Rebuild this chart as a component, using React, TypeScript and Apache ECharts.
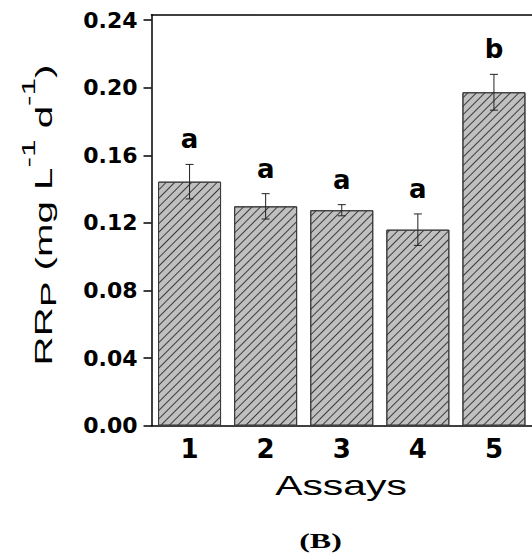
import React, { useEffect, useRef } from 'react';
import * as echarts from 'echarts';

const categories = ['1', '2', '3', '4', '5'];
const values = [0.1444, 0.1298, 0.1275, 0.116, 0.1973];
const errors = [0.0102, 0.0075, 0.0033, 0.0093, 0.0106];
const letters = ['a', 'a', 'a', 'a', 'b'];
const yTicks = [0, 0.04, 0.08, 0.12, 0.16, 0.2, 0.24];
const yMax = 0.2432;

export default function App() {
  const ref = useRef<HTMLDivElement>(null);
  useEffect(() => {
    document.body.style.margin = '0';
    const chart = echarts.init(ref.current as HTMLDivElement, null, { renderer: 'svg' });
    const errData = values.map((v, i) => [i, v - errors[i], v + errors[i]]);
    const axisLine = { lineStyle: { color: '#000', width: 1.5 } };
    chart.setOption({
      animation: false,
      grid: { left: 151.5, top: 14.7, width: 391, height: 411 },
      xAxis: [
        {
          type: 'category',
          data: categories,
          position: 'bottom',
          axisLine,
          axisTick: { alignWithLabel: true, length: 7, lineStyle: { color: '#000', width: 1.5 } },
          axisLabel: {
            margin: 10,
            color: '#000',
            fontFamily: 'DejaVu Sans',
            fontWeight: 'bold',
            fontSize: 26,
          },
        },
        {
          type: 'category',
          data: categories,
          position: 'top',
          axisLine,
          axisTick: { show: false },
          axisLabel: { show: false },
        },
      ],
      yAxis: {
        type: 'value',
        min: 0,
        max: yMax,
        splitLine: { show: false },
        axisLine: { show: true, lineStyle: { color: '#000', width: 1.5 } },
        axisTick: { show: true, length: 8, customValues: yTicks, lineStyle: { color: '#000', width: 1.5 } },
        axisLabel: {
          customValues: yTicks,
          formatter: (v: number) => v.toFixed(2),
          margin: 14,
          color: '#000',
          fontFamily: 'DejaVu Sans',
          fontWeight: 'bold',
          fontSize: 22,
        },
      },
      series: [
        {
          type: 'bar',
          data: values,
          barWidth: 63,
          itemStyle: {
            color: '#c0c0c0',
            borderColor: '#3a3a3a',
            borderWidth: 1,
            decal: {
              symbol: 'rect',
              symbolSize: 1,
              color: '#3a3a3a',
              dashArrayX: [1, 0],
              dashArrayY: [1, 5],
              rotation: -Math.PI / 4,
            },
          },
        },
        {
          type: 'custom',
          data: errData,
          z: 5,
          renderItem: (params: any, api: any) => {
            const i = api.value(0);
            const lo = api.coord([i, api.value(1)]);
            const hi = api.coord([i, api.value(2)]);
            const x = hi[0];
            const cap = 4;
            const style = { stroke: '#222', lineWidth: 1 };
            return {
              type: 'group',
              children: [
                { type: 'line', shape: { x1: x, y1: hi[1], x2: x, y2: lo[1] }, style },
                { type: 'line', shape: { x1: x - cap, y1: hi[1], x2: x + cap, y2: hi[1] }, style },
                { type: 'line', shape: { x1: x - cap, y1: lo[1], x2: x + cap, y2: lo[1] }, style },
                {
                  type: 'text',
                  x,
                  y: hi[1] - 25,
                  style: {
                    text: letters[params.dataIndex],
                    fill: '#000',
                    fontFamily: 'DejaVu Sans',
                    fontWeight: 'bold',
                    fontSize: 26,
                    align: 'center',
                    verticalAlign: 'middle',
                    textAlign: 'center',
                    textVerticalAlign: 'middle',
                  },
                },
              ],
            };
          },
        },
      ],
      graphic: [
        {
          type: 'text',
          x: 44,
          y: 215,
          rotation: Math.PI / 2,
          scaleX: 1.75,
          style: {
            text: 'RR{sub|P} (mg L{sup|-1} d{sup|-1})',
            fill: '#000',
            fontFamily: 'Liberation Sans',
            fontSize: 23,
            align: 'center',
            verticalAlign: 'middle',
            textAlign: 'center',
            textVerticalAlign: 'middle',
            rich: {
              sub: { fontFamily: 'Liberation Sans', fontSize: 22, padding: [10, 0, 0, 0], fill: '#000' },
              sup: { fontFamily: 'Liberation Sans', fontSize: 18, padding: [0, 0, 30, 0], fill: '#000' },
            },
          },
        },
        {
          type: 'text',
          x: 341,
          y: 485,
          scaleX: 1.46,
          style: {
            text: 'Assays',
            fill: '#000',
            fontFamily: 'Liberation Sans',
            fontSize: 28,
            align: 'center',
            verticalAlign: 'middle',
            textAlign: 'center',
            textVerticalAlign: 'middle',
          },
        },
        {
          type: 'text',
          x: 320.5,
          y: 541,
          scaleX: 1.6,
          style: {
            text: '(B)',
            fill: '#000',
            fontFamily: 'Liberation Serif',
            fontWeight: 'bold',
            fontSize: 20,
            align: 'center',
            verticalAlign: 'middle',
            textAlign: 'center',
            textVerticalAlign: 'middle',
          },
        },
      ],
    });
    return () => chart.dispose();
  }, []);
  return <div ref={ref} style={{ width: 532, height: 555 }} />;
}
